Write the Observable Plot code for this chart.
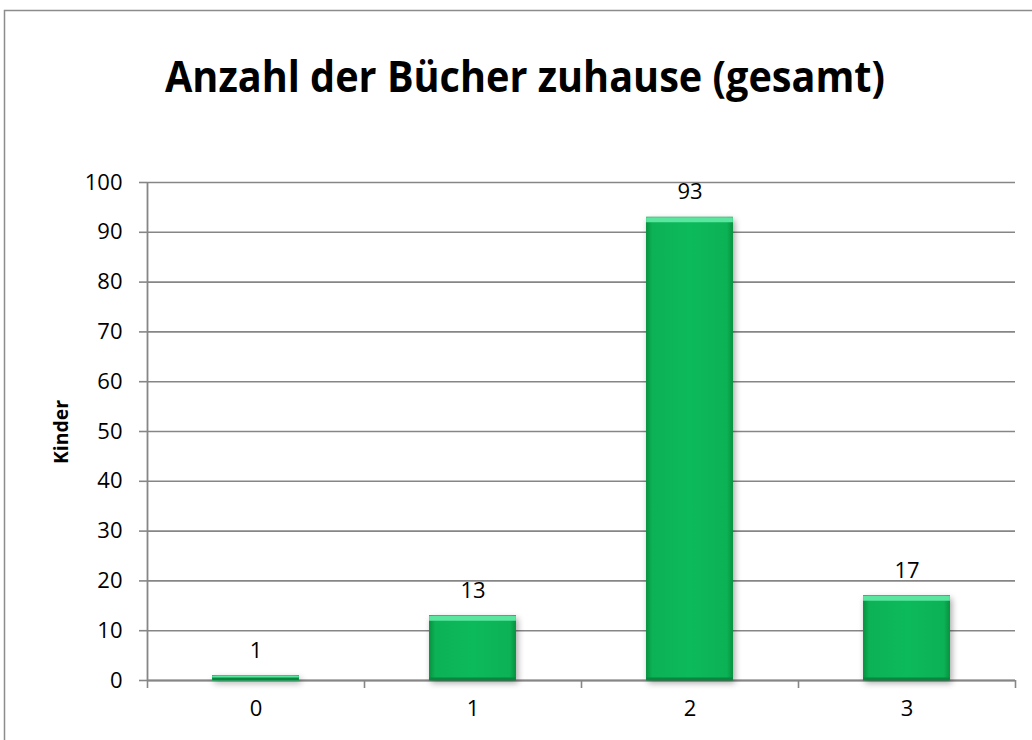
<!DOCTYPE html>
<html>
<head>
<meta charset="utf-8">
<script src="https://cdn.jsdelivr.net/npm/d3@7"></script>
<script src="https://cdn.jsdelivr.net/npm/@observablehq/plot@0.6"></script>
<style>
  body { margin: 0; background: #fff; }
  #chart { position: relative; width: 1032px; height: 740px; overflow: hidden; }
  .barshadow rect { filter: drop-shadow(2px 3px 3px rgba(0,0,0,0.35)); }
</style>
</head>
<body>
<div id="chart"></div>
<script>
const title = "Anzahl der Bücher zuhause (gesamt)";
const yLabel = "Kinder";
const categories = [0, 1, 2, 3];
const counts = [1, 13, 93, 17];
const yTicks = [0, 10, 20, 30, 40, 50, 60, 70, 80, 90, 100];
const boundaries = [-0.5, 0.5, 1.5, 2.5, 3.5];

const data = categories.map((c, i) => ({cat: c, count: counts[i]}));
const half = 0.2;
const font = "'Open Sans', sans-serif";

const plot = Plot.plot({
  width: 1032,
  height: 740,
  marginLeft: 147,
  marginRight: 17,
  marginTop: 182,
  marginBottom: 60,
  style: {fontFamily: font, fontSize: "22px", color: "#000", background: "transparent"},
  x: {domain: [-0.5, 3.5]},
  y: {domain: [0, 100]},
  marks: [
    Plot.gridY(yTicks, {stroke: "#868686", strokeOpacity: 1, strokeWidth: 1.6}),
    Plot.axisY({ticks: yTicks, tickSize: 8, tickPadding: 17, stroke: "#868686", strokeWidth: 1.6, label: null, fontSize: 22}),
    Plot.axisX({ticks: boundaries, tickSize: 8, tickFormat: () => "", stroke: "#868686", strokeWidth: 1.6, label: null}),
    Plot.axisX({ticks: categories, tickSize: 0, tickPadding: 20, tickFormat: d => String(d), label: null, fontSize: 22}),
    Plot.ruleX([-0.5], {y1: 0, y2: 100, stroke: "#868686", strokeWidth: 1.8}),
    Plot.ruleY([0], {stroke: "#868686", strokeWidth: 1.8}),
    Plot.rectY(data, {x1: d => d.cat - half, x2: d => d.cat + half, y: "count", fill: "#0a9c4a", className: "barshadow"}),
    Plot.rectY(data, {x1: d => d.cat - half, x2: d => d.cat + half, y: "count", fill: "url(#barGrad)"}),
    Plot.ruleY(data, {x1: d => d.cat - half, x2: d => d.cat + half, y: "count", stroke: "#5ae69f", strokeWidth: 5, dy: 2.5}),
    Plot.ruleY(data, {x1: d => d.cat - half, x2: d => d.cat + half, y: d => 0, stroke: "#07883f", strokeWidth: 3, dy: -1.5}),
    Plot.text(data, {x: "cat", y: "count", text: d => String(d.count), lineAnchor: "bottom", dy: -18, fontSize: 22, fill: "#000"})
  ]
});

document.getElementById("chart").appendChild(plot);

const svg = d3.select(plot);
const defs = svg.insert("defs", ":first-child");
const g = defs.append("linearGradient").attr("id", "barGrad").attr("x1", "0").attr("x2", "1").attr("y1", "0").attr("y2", "0");
g.append("stop").attr("offset", "0%").attr("stop-color", "#07923f");
g.append("stop").attr("offset", "7%").attr("stop-color", "#0cb256");
g.append("stop").attr("offset", "50%").attr("stop-color", "#0cba5b");
g.append("stop").attr("offset", "93%").attr("stop-color", "#0cb256");
g.append("stop").attr("offset", "100%").attr("stop-color", "#07923f");

svg.insert("rect", "defs + *")
  .attr("x", 4.5).attr("y", 10.5).attr("width", 1200).attr("height", 1000)
  .attr("fill", "none").attr("stroke", "#8c8c8c").attr("stroke-width", 1.5);

svg.append("text")
  .attr("x", 525).attr("y", 92)
  .attr("text-anchor", "middle")
  .attr("font-family", font).attr("font-weight", "bold").attr("font-size", 43)
  .attr("textLength", 720).attr("lengthAdjust", "spacingAndGlyphs")
  .attr("fill", "#000")
  .text(title);

svg.append("text")
  .attr("transform", "translate(68,432) rotate(-90)")
  .attr("text-anchor", "middle")
  .attr("font-family", font).attr("font-weight", "bold").attr("font-size", 19)
  .attr("textLength", 64).attr("lengthAdjust", "spacingAndGlyphs")
  .attr("fill", "#000")
  .text(yLabel);
</script>
</body>
</html>
